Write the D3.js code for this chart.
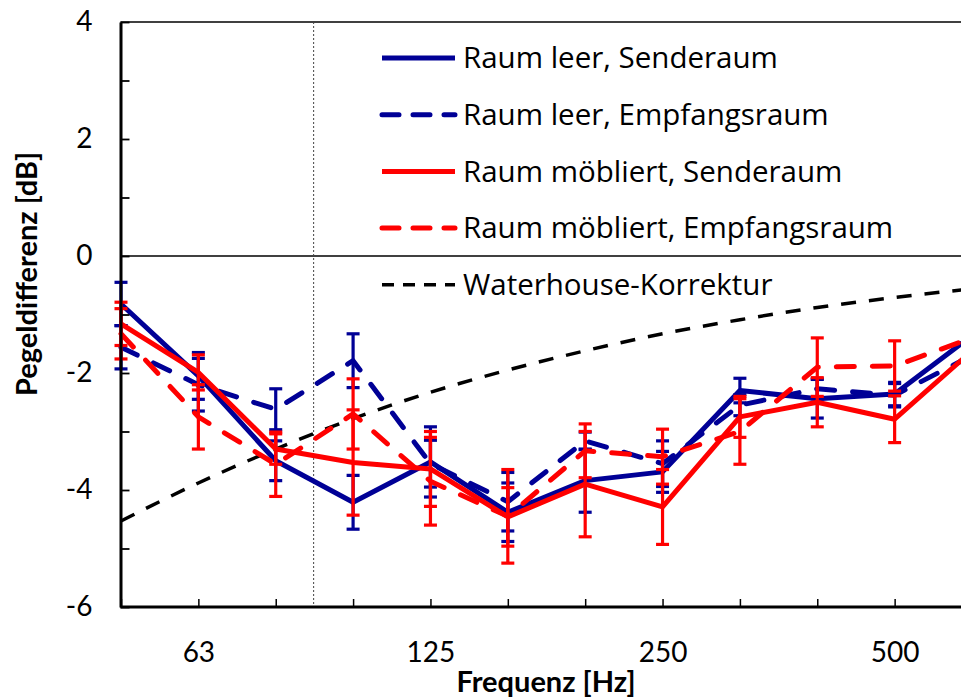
<!DOCTYPE html>
<html><head><meta charset="utf-8">
<script src="https://cdn.jsdelivr.net/npm/d3@7/dist/d3.min.js"></script>
<style>
body{margin:0;background:#fff;}
svg{display:block;font-family:Lato,"Open Sans",sans-serif;}
</style>
</head><body>
<svg id="chart" width="961" height="698"></svg>
<script>
// ---- data ----
const frequencies = ["50","63","80","100","125","160","200","250","315","400","500","630"];
const labeledTicks = ["63","125","250","500"];
const yTicks = [-6,-5,-4,-3,-2,-1,0,1,2,3,4];

const leerSender      = [-0.82,-2.05,-3.50,-4.21,-3.52,-4.38,-3.84,-3.69,-2.30,-2.44,-2.36,-1.36];
const leerSenderErr   = [ 0.37, 0.40, 0.34, 0.46, 0.60, 0.50, 0.54, 0.35, 0.21, 0.33, 0.20, 0.30];
const leerEmpf        = [-1.56,-2.20,-2.62,-1.79,-3.55,-4.20,-3.16,-3.55,-2.55,-2.27,-2.38,-1.70];
const leerEmpfErr     = [ 0.37, 0.45, 0.35, 0.46, 0.40, 0.50, 0.15, 0.39, 0.18, 0.17, 0.20, 0.30];
const moebSender      = [-1.16,-1.99,-3.30,-3.53,-3.64,-4.46,-3.90,-4.29,-2.75,-2.50,-2.79,-1.62];
const moebSenderErr   = [ 0.37, 0.30, 0.26, 0.90, 0.64, 0.50, 0.90, 0.64, 0.35, 0.42, 0.40, 0.30];
const moebEmpf        = [-1.33,-2.75,-3.56,-2.70,-3.85,-4.45,-3.33,-3.43,-3.00,-1.90,-1.88,-1.40];
const moebEmpfErr     = [ 0.43, 0.55, 0.55, 0.60, 0.75, 0.80, 0.46, 0.47, 0.56, 0.50, 0.43, 0.30];
const waterhouse      = [-4.53,-3.88,-3.30,-2.78,-2.33,-1.95,-1.62,-1.33,-1.09,-0.88,-0.71,-0.56];
const markerBandIndex = 2.49; // dotted vertical line between 80 and 100 Hz

const seriesNames = ["Raum leer, Senderaum","Raum leer, Empfangsraum","Raum möbliert, Senderaum","Raum möbliert, Empfangsraum","Waterhouse-Korrektur"];

const BLUE = "#000096", RED = "#FF0000";
const series = [
  {name:seriesNames[0], values:leerSender, err:leerSenderErr, color:BLUE, dash:null},
  {name:seriesNames[1], values:leerEmpf,   err:leerEmpfErr,   color:BLUE, dash:"18,18"},
  {name:seriesNames[2], values:moebSender, err:moebSenderErr, color:RED,  dash:null},
  {name:seriesNames[3], values:moebEmpf,   err:moebEmpfErr,   color:RED,  dash:"18,18"}
];

// ---- layout ----
const svg = d3.select("#chart");
const plotLeft = 120.5, plotBottom = 607, plotTop = 22, rightEnd = 972;
const x = d3.scalePoint().domain(frequencies).range([121, rightEnd]);
const xi = d3.scaleLinear().domain([0, frequencies.length-1]).range([121, rightEnd]);
const y = d3.scaleLinear().domain([-6,4]).range([plotBottom, plotTop]);

// top border and zero line
svg.append("line").attr("x1",plotLeft).attr("x2",961).attr("y1",y(4)).attr("y2",y(4))
  .attr("stroke","#000").attr("stroke-width",1.5);
svg.append("line").attr("x1",plotLeft).attr("x2",961).attr("y1",y(0)).attr("y2",y(0))
  .attr("stroke","#000").attr("stroke-width",1.5);

// dotted vertical marker
svg.append("line").attr("x1",xi(markerBandIndex)).attr("x2",xi(markerBandIndex))
  .attr("y1",plotTop).attr("y2",plotBottom).attr("stroke","#444").attr("stroke-width",1)
  .attr("stroke-dasharray","2,2");

// Waterhouse curve
const smooth = d3.line().x((d,i)=>x(frequencies[i])).y(d=>y(d)).curve(d3.curveMonotoneX);
svg.append("path").datum(waterhouse)
  .attr("d", smooth)
  .attr("fill","none").attr("stroke","#000").attr("stroke-width",3.5)
  .attr("stroke-dasharray","15,13");

const straight = d3.line().x((d,i)=>x(frequencies[i])).y(d=>y(d));

series.forEach(s=>{
  const g = svg.append("g");
  g.append("path").datum(s.values).attr("d", straight)
    .attr("fill","none").attr("stroke",s.color).attr("stroke-width",5)
    .attr("stroke-linejoin","round")
    .attr("stroke-linecap", s.dash ? "round" : "butt")
    .attr("stroke-dasharray", s.dash);
  const eb = g.selectAll(".eb").data(s.values.map((v,i)=>({f:frequencies[i],v,e:s.err[i]})))
    .enter().append("g");
  eb.append("line").attr("x1",d=>x(d.f)).attr("x2",d=>x(d.f))
    .attr("y1",d=>y(d.v+d.e)).attr("y2",d=>y(d.v-d.e))
    .attr("stroke",s.color).attr("stroke-width",3.2);
  [1,-1].forEach(sg=>{
    eb.append("line").attr("x1",d=>x(d.f)-6.5).attr("x2",d=>x(d.f)+6.5)
      .attr("y1",d=>y(d.v+sg*d.e)).attr("y2",d=>y(d.v+sg*d.e))
      .attr("stroke",s.color).attr("stroke-width",3.2);
  });
});

// axes
const yAxis = d3.axisLeft(y).tickValues(yTicks).tickSize(-9).tickSizeOuter(0).tickPadding(28)
  .tickFormat(d => d%2===0 ? String(d) : "");
const gy = svg.append("g").attr("transform",`translate(${plotLeft},0)`).call(yAxis);
gy.select(".domain").attr("stroke-width",3);
gy.selectAll(".tick line").attr("stroke-width",1.8);
gy.selectAll("text").attr("font-size",28).attr("fill","#000").attr("font-family","Lato");

const xAxis = d3.axisBottom(x).tickSize(-8).tickSizeOuter(0).tickPadding(35)
  .tickFormat(d => labeledTicks.includes(d) ? d : "");
const gx = svg.append("g").attr("transform",`translate(0,${plotBottom})`).call(xAxis);
gx.select(".domain").attr("d",`M${plotLeft},0H${rightEnd}`).attr("stroke-width",3);
gx.selectAll(".tick line").attr("stroke-width",1.5);
gx.selectAll("text").attr("font-size",28).attr("fill","#000").attr("font-family","Lato");

// axis titles
svg.append("text").attr("x",546).attr("y",692).attr("text-anchor","middle")
  .attr("font-size",29).attr("font-weight","bold").text("Frequenz [Hz]");
svg.append("text").attr("transform","translate(37,274) rotate(-90)").attr("text-anchor","middle")
  .attr("font-size",29).attr("font-weight","bold").text("Pegeldifferenz [dB]");

// legend
const legendItems = series.map(s=>({name:s.name,color:s.color,dash:s.dash?"17,14":null,w:5,cap:s.dash?"round":"butt"}))
  .concat([{name:seriesNames[4],color:"#000",dash:"12,9",w:3.5,cap:"butt"}]);
const lg = svg.append("g");
legendItems.forEach((it,i)=>{
  const cy = 58 + i*56.7;
  lg.append("line").attr("x1",382).attr("x2",455).attr("y1",cy).attr("y2",cy)
    .attr("stroke",it.color).attr("stroke-width",it.w).attr("stroke-dasharray",it.dash)
    .attr("stroke-linecap",it.cap);
  lg.append("text").attr("x",463).attr("y",cy).attr("dy","0.35em")
    .attr("font-size",29.5).attr("font-family","Open Sans").attr("fill","#000").text(it.name);
});
</script>
</body></html>
